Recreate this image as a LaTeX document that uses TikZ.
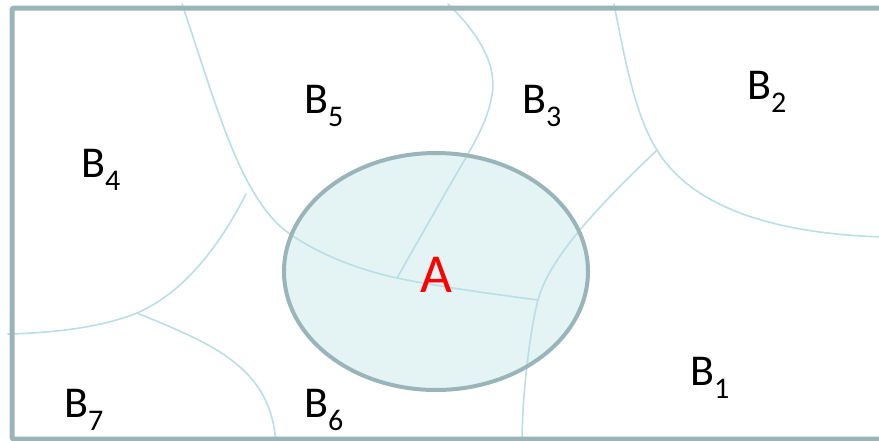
\documentclass[tikz,border=0pt]{standalone}
\usepackage{fontspec}
\setmainfont{Carlito}
\definecolor{framegray}{HTML}{9AB5B9}
\definecolor{bordercyan}{HTML}{B9DFE4}
\definecolor{areafill}{HTML}{E4F3F4}
\tikzset{
  frameline/.style={draw=framegray, line width=5pt, rounded corners=2pt},
  border/.style={draw=bordercyan, line width=1.6pt, line cap=round},
  areaA/.style={draw=framegray, line width=4pt},
  region/.style={font=\fontsize{44}{44}\selectfont, anchor=base west, inner sep=0pt},
  centre/.style={font=\fontsize{55}{55}\selectfont, text=red, anchor=base, inner sep=0pt},
}
\newcommand{\regname}[1]{B\raisebox{-13pt}{\fontsize{30}{30}\selectfont #1}}

\begin{document}
\begin{tikzpicture}[x=1pt, y=-1pt]
  \useasboundingbox (0,0) rectangle (879,440);
  \clip (0,0) rectangle (879,440);

  %% ---- area A (fill first) ----
  \fill[areafill] (436,271.5) ellipse [x radius=152, y radius=118.5];

  %% ---- junctions ----
  \coordinate (j1) at (397,278);
  \coordinate (j2) at (538,300);
  \coordinate (j3) at (657,150);
  \coordinate (j4) at (137,313);
  \coordinate (bend) at (290,234);

  %% ---- borders between regions ----
  \draw[border] (182,4) .. controls (215,100) and (240,200) .. (bend)
    .. controls (320,255) and (360,270) .. (j1)
    .. controls (440,287) and (500,295) .. (j2);
  \draw[border] (448,4) .. controls (480,35) and (497,65) .. (492,95)
    .. controls (487,125) and (470,150) .. (450,185)
    .. controls (430,220) and (410,255) .. (j1);
  \draw[border] (614,4) .. controls (625,60) and (635,115) .. (j3)
    .. controls (690,205) and (770,234) .. (885,237);
  \draw[border] (j3) .. controls (605,200) and (550,255) .. (j2)
    .. controls (531,326) and (522,390) .. (522,445);
  \draw[border] (246,194) .. controls (225,235) and (190,290) .. (j4);
  \draw[border] (j4) .. controls (100,328) and (50,333) .. (8,334);
  \draw[border] (j4) .. controls (215,345) and (272,368) .. (276,445);

  %% ---- outline of A and frame ----
  \draw[areaA] (436,271.5) ellipse [x radius=152, y radius=118.5];
  \draw[frameline] (900,8) -- (12,8) -- (12,439) -- (900,439);

  %% ---- labels ----
  \node[centre] (a) at (436.5,292) {A};
  \node[region] (b1) at (690,385) {\regname{1}};
  \node[region] (b2) at (747,99)  {\regname{2}};
  \node[region] (b3) at (522,113) {\regname{3}};
  \node[region] (b4) at (81,177)  {\regname{4}};
  \node[region] (b5) at (304,113) {\regname{5}};
  \node[region] (b6) at (304,417) {\regname{6}};
  \node[region] (b7) at (64,417)  {\regname{7}};

\end{tikzpicture}
\end{document}
